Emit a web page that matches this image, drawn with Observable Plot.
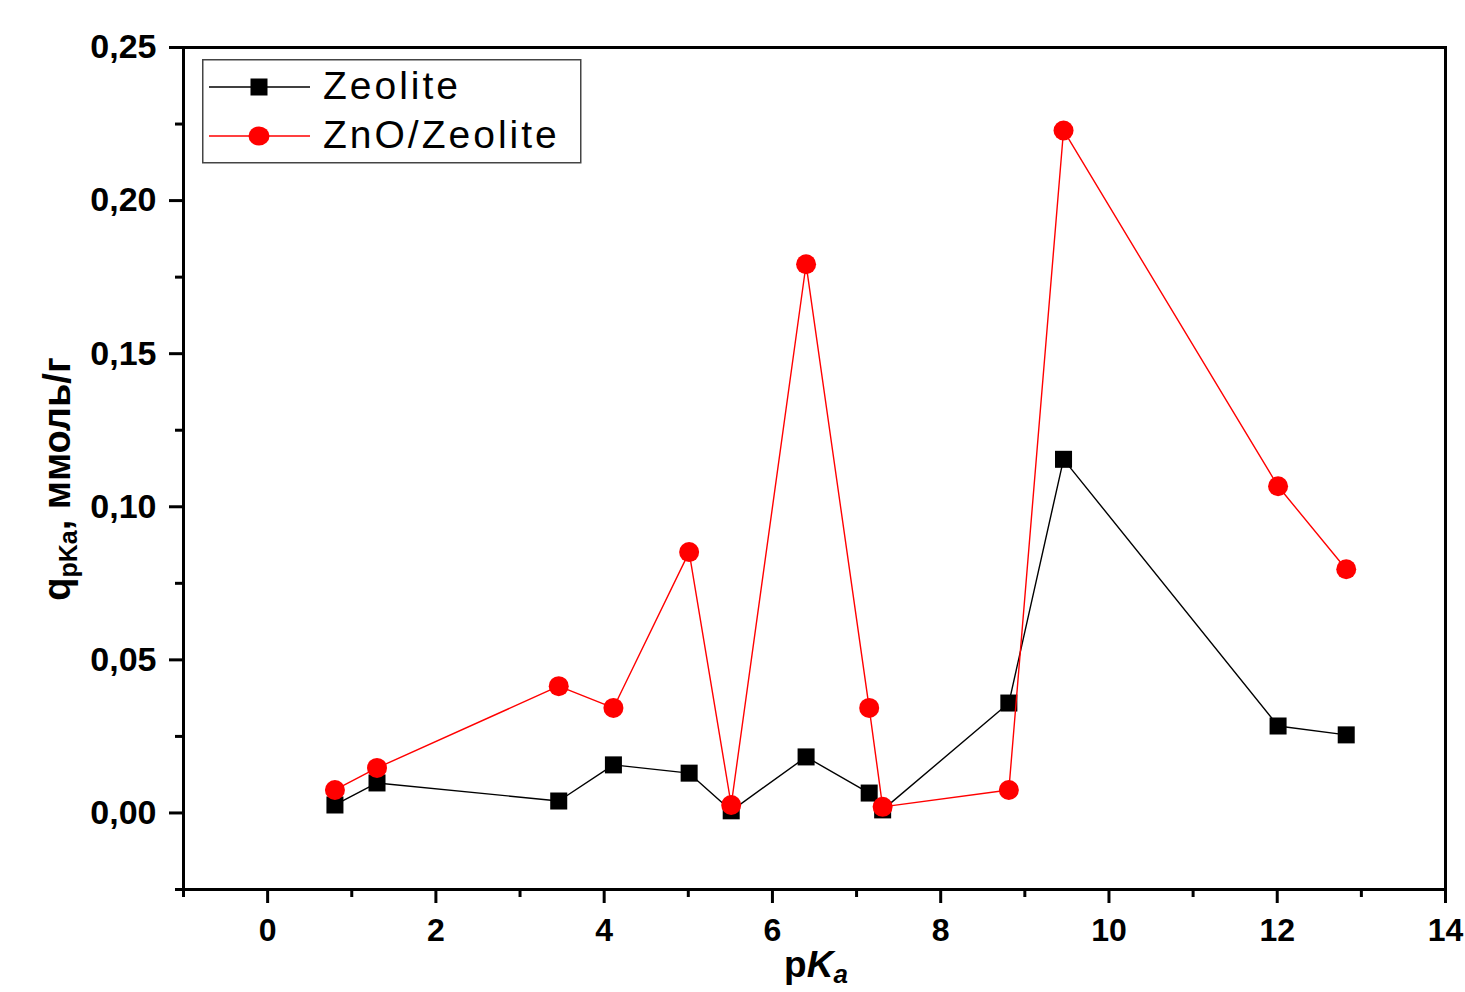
<!DOCTYPE html>
<html><head><meta charset="utf-8">
<script src="https://cdn.jsdelivr.net/npm/d3@7"></script>
<script src="https://cdn.jsdelivr.net/npm/@observablehq/plot@0.6"></script>
<style>
html,body{margin:0;padding:0;background:#fff;overflow:hidden;}
#wrap{position:relative;width:1465px;height:992px;overflow:hidden;}
#legend{position:absolute;left:202px;top:59px;}
</style></head><body><div id="wrap"></div>
<script>
const pKa = [0.80, 1.30, 3.46, 4.11, 5.01, 5.51, 6.40, 7.15, 7.31, 8.81, 9.46, 12.01, 12.82];
const zeolite = [0.0026, 0.0098, 0.0039, 0.0157, 0.0130, 0.0007, 0.0183, 0.0065, 0.0010, 0.0359, 0.1155, 0.0284, 0.0255];
const znoZeolite = [0.0075, 0.0147, 0.0414, 0.0343, 0.0852, 0.0026, 0.1792, 0.0343, 0.0020, 0.0075, 0.2229, 0.1067, 0.0796];
const seriesNames = ["Zeolite", "ZnO/Zeolite"];
const xMajor = [0, 2, 4, 6, 8, 10, 12, 14];
const xMinor = [-1, 1, 3, 5, 7, 9, 11, 13];
const yMajor = [0, 0.05, 0.10, 0.15, 0.20, 0.25];
const yMinor = [-0.025, 0.025, 0.075, 0.125, 0.175, 0.225];

const zeoRows = pKa.map((x, i) => ({x, y: zeolite[i]}));
const znoRows = pKa.map((x, i) => ({x, y: znoZeolite[i]}));
const FONT = "'Liberation Sans', Arial, sans-serif";

const chart = Plot.plot({
  width: 1465, height: 992,
  marginLeft: 183, marginRight: 20, marginTop: 47, marginBottom: 103,
  x: {domain: [-1, 14]},
  y: {domain: [-0.025, 0.25]},
  style: {fontFamily: FONT, background: "white", color: "black", overflow: "hidden"},
  marks: [
    Plot.axisX({ticks: xMajor, tickSize: 14, tickPadding: 15, tickFormat: d => String(d), fontSize: 32, fontWeight: "bold", strokeWidth: 3, label: null}),
    Plot.axisX({ticks: xMinor, tickSize: 8, tickFormat: () => "", strokeWidth: 3, label: null}),
    Plot.axisY({ticks: yMajor, tickSize: 14, tickPadding: 13, tickFormat: d => d.toFixed(2).replace(".", ","), fontSize: 34, fontWeight: "bold", strokeWidth: 3, label: null, letterSpacing: 1.5}),
    Plot.axisY({ticks: yMinor, tickSize: 8, tickFormat: () => "", strokeWidth: 3, label: null}),
    Plot.line(zeoRows, {x: "x", y: "y", stroke: "black", strokeWidth: 1.4}),
    Plot.dot(zeoRows, {x: "x", y: "y", symbol: "square", r: 9.6, fill: "black", stroke: "none"}),
    Plot.line(znoRows, {x: "x", y: "y", stroke: "#ff0000", strokeWidth: 1.4}),
    Plot.dot(znoRows, {x: "x", y: "y", symbol: "circle", r: 10, fill: "#ff0000", stroke: "none"}),
    Plot.frame({stroke: "black", strokeWidth: 3})
  ]
});

const svg = d3.select(chart);
// Y axis title
const yt = svg.append("text")
  .attr("transform", "translate(70,479) rotate(-90)")
  .attr("text-anchor", "middle")
  .attr("fill", "black")
  .style("font", `bold 38px ${FONT}`);
yt.append("tspan").text("q");
yt.append("tspan").attr("font-size", "25px").attr("dy", 7).text("pKa");
yt.append("tspan").attr("dy", -7).text(", ммоль/г");
// X axis title
const xt = svg.append("text")
  .attr("x", 816).attr("y", 977)
  .attr("text-anchor", "middle")
  .attr("fill", "black")
  .style("font", `bold 37px ${FONT}`);
xt.append("tspan").text("p");
xt.append("tspan").attr("font-style", "italic").text("K");
xt.append("tspan").attr("font-size", "26px").attr("font-style", "italic").attr("dy", 6).text("a");

document.getElementById("wrap").appendChild(chart);

// Legend (inside the plot area, top-left)
const leg = d3.select("#wrap").append("svg")
  .attr("id", "legend").attr("width", 381).attr("height", 106)
  .style("font-family", FONT);
leg.append("rect").attr("x", 0.75).attr("y", 0.75).attr("width", 378).attr("height", 103)
  .attr("fill", "white").attr("stroke", "#444").attr("stroke-width", 1.5);
const legendItems = [
  {name: seriesNames[0], color: "black", symbol: "square", cy: 28, base: 40},
  {name: seriesNames[1], color: "#ff0000", symbol: "circle", cy: 77, base: 89}
];
legendItems.forEach(it => {
  leg.append("line").attr("x1", 7).attr("x2", 108).attr("y1", it.cy).attr("y2", it.cy)
    .attr("stroke", it.color).attr("stroke-width", 1.4);
  if (it.symbol === "square") {
    leg.append("rect").attr("x", 57 - 8.5).attr("y", it.cy - 8.5).attr("width", 17).attr("height", 17).attr("fill", it.color);
  } else {
    leg.append("ellipse").attr("cx", 57).attr("cy", it.cy).attr("rx", 10.5).attr("ry", 9.5).attr("fill", it.color);
  }
  leg.append("text").attr("x", 121).attr("y", it.base)
    .attr("fill", "black").attr("font-size", 39).attr("letter-spacing", 3).text(it.name);
});
</script></body></html>
